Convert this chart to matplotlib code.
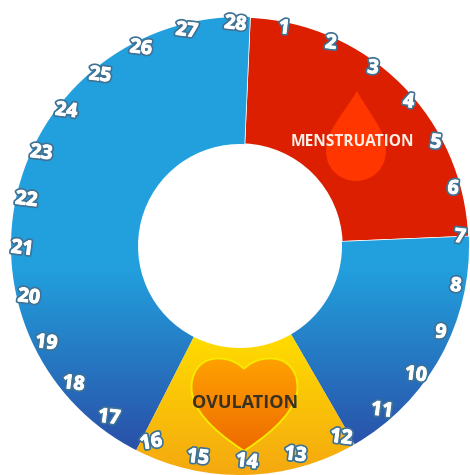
import numpy as np
import matplotlib
matplotlib.use('Agg')
import matplotlib.pyplot as plt
import matplotlib.patheffects as pe
from matplotlib.colors import LinearSegmentedColormap
from matplotlib.path import Path
from matplotlib.patches import PathPatch

# Data
phases = ['menstruation', 'follicular', 'ovulation', 'luteal']
phase_days = [6.62, 4.85, 4.43, 12.10]
days = list(range(1, 29))
phase_labels = ['MENSTRUATION', 'OVULATION']

W, H = 470, 475
CX, CY = 240, H - 246
R_OUT, R_IN = 229, 102

plt.rcParams['font.family'] = ['Open Sans', 'DejaVu Sans']

fig = plt.figure(figsize=(W / 100, H / 100), dpi=100)
ax = fig.add_axes([0, 0, 1, 1])

wedges, _ = ax.pie(phase_days, startangle=87.5, counterclock=False, center=(CX, CY), radius=R_OUT,
                   colors=['#dc1f00', '#22a0dd', '#ffd000', '#22a0dd'],
                   wedgeprops=dict(width=R_OUT - R_IN, edgecolor='white', linewidth=1.0))
ax.set_xlim(0, W)
ax.set_ylim(0, H)
ax.set_aspect('equal')
ax.axis('off')


def gradient(patch, stops, y_top, y_bottom, zorder=2):
    # vertical gradient clipped to a patch, y given from the top of the image
    cmap = LinearSegmentedColormap.from_list('g', stops)
    grad = np.linspace(0, 1, 256).reshape(-1, 1)
    im = ax.imshow(grad, cmap=cmap, aspect='auto', zorder=zorder, vmin=0, vmax=1,
                   extent=[0, W, H - y_bottom, H - y_top], origin='upper')
    im.set_clip_path(patch)
    ax.set_xlim(0, W)
    ax.set_ylim(0, H)


blue = [(0, '#22a0dd'), (0.58, '#22a0dd'), (1, '#2a50a8')]
gradient(wedges[1], blue, 17, 450)
gradient(wedges[3], blue, 17, 450)
gradient(wedges[2], ['#ffdc00', '#f5a810'], 335, 475)


def py(y):
    return H - y


# Drop
drop_verts = [(357, py(91)),
              (345, py(112)), (326, py(130)), (326, py(151)),
              (326, py(169)), (340, py(181)), (356, py(181)),
              (373, py(181)), (386, py(168)), (386, py(151)),
              (386, py(130)), (368, py(112)), (357, py(91))]
drop_codes = [Path.MOVETO] + [Path.CURVE4] * 12
drop = PathPatch(Path(drop_verts, drop_codes), facecolor='#ff3600', edgecolor='none', zorder=3)
ax.add_patch(drop)

# Heart
heart_verts = [(244, py(369)),
              (234, py(358)), (216, py(356)), (206, py(361)),
              (194, py(367)), (190, py(381)), (192, py(393)),
              (196, py(418)), (226, py(439)), (244, py(451)),
              (262, py(439)), (292, py(418)), (297, py(393)),
              (299, py(381)), (295, py(367)), (283, py(361)),
              (272, py(356)), (254, py(358)), (244, py(369))]
heart_codes = [Path.MOVETO] + [Path.CURVE4] * 18
heart = PathPatch(Path(heart_verts, heart_codes), facecolor='none', edgecolor='#f7e800',
                  linewidth=1.4, zorder=4)
ax.add_patch(heart)
gradient(heart, ['#ffa200', '#ee6a00'], 358, 451, zorder=3)

# Phase names
ax.text(352, py(142), phase_labels[0], color='#fbeee6', fontsize=11.2, fontweight='bold',
        ha='center', va='center', zorder=6)
ax.text(245, py(403), phase_labels[1], color='#3a3220', fontsize=13, fontweight='bold',
        ha='center', va='center', zorder=6)

# Day numbers round the ring
outline = [pe.withStroke(linewidth=3.2, foreground='#3f7396'),
           pe.withStroke(linewidth=0.7, foreground='white')]
for day in days:
    a = np.radians(day * 360 / 28 - 1.5)
    x = 241 + 219 * np.sin(a)
    y = py(243) + 219 * np.cos(a)
    rot = 10 if day == 16 else -7
    ax.text(x, y, str(day), color='white', fontsize=14, fontweight='bold', rotation=rot,
            ha='center', va='center', rotation_mode='anchor', path_effects=outline, zorder=7)

fig.savefig('out.png', dpi=100)
